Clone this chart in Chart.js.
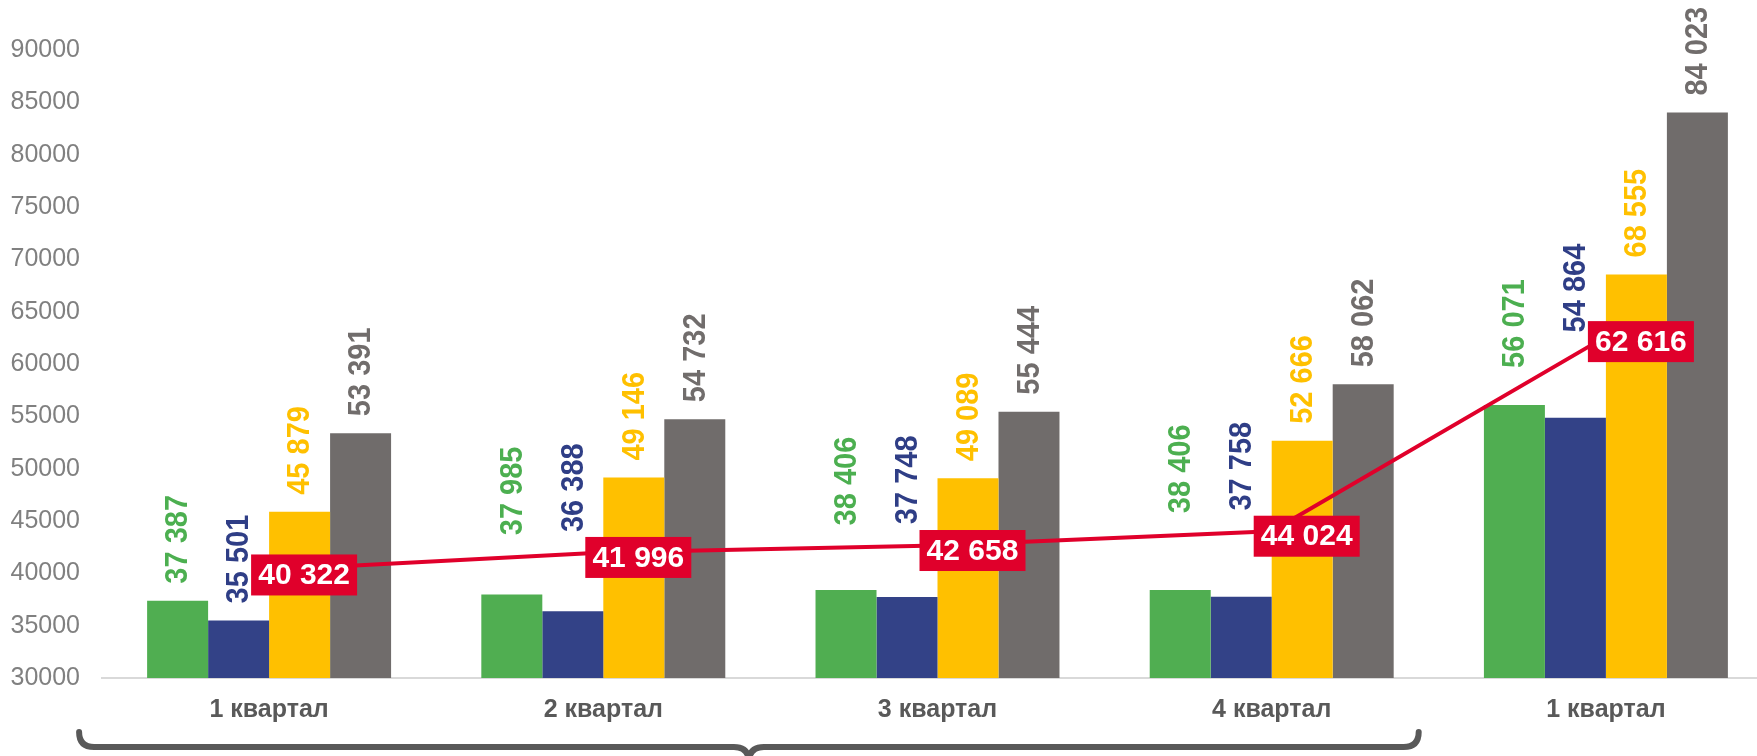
<!DOCTYPE html>
<html lang="ru">
<head>
    <meta charset="UTF-8">
    <title>Кварталы</title>
    <style>
        body {
            margin: 0;
            background-color: white;
            overflow: hidden;
        }
        #barChart {
            display: block;
        }
    </style>
    <script src="https://cdn.jsdelivr.net/npm/chart.js"></script>
</head>
<body>
    <canvas id="barChart" width="1776" height="756"></canvas>

    <script>
        // data
        const quarters = ['1 квартал', '2 квартал', '3 квартал', '4 квартал', '1 квартал'];
        const seriesGreen = [37387, 37985, 38406, 38406, 56071];
        const seriesBlue = [35501, 36388, 37748, 37758, 54864];
        const seriesYellow = [45879, 49146, 49089, 52666, 68555];
        const seriesGray = [53391, 54732, 55444, 58062, 84023];
        const lineValues = [40322, 41996, 42658, 44024, 62616];
        const yTicks = [30000, 90000, 5000]; // min, max, step

        const FONT = '"Liberation Sans", Arial, sans-serif';
        const RED = '#E0002B';

        function fmt(v) {
            return String(v).replace(/\B(?=(\d{3})+(?!\d))/g, ' ');
        }

        // value labels: rotated above the bars, red boxes on the line
        const labelsPlugin = {
            id: 'labels',
            afterDatasetsDraw(chart) {
                const ctx = chart.ctx;
                const lineMeta = chart.getDatasetMeta(4);
                const pts = lineMeta.data;

                function lineYAt(x) {
                    for (let i = 0; i < pts.length - 1; i++) {
                        const a = pts[i], b = pts[i + 1];
                        if (x >= a.x && x <= b.x) {
                            return a.y + (b.y - a.y) * (x - a.x) / (b.x - a.x);
                        }
                    }
                    return null;
                }

                ctx.save();
                ctx.font = 'bold 29px ' + FONT;
                chart.data.datasets.forEach((ds, di) => {
                    if (ds.type === 'line') return;
                    const meta = chart.getDatasetMeta(di);
                    meta.data.forEach((bar, i) => {
                        let end = bar.y - 17;
                        const ly = lineYAt(bar.x);
                        if (ly !== null && ly - 22 < end) end = ly - 22;
                        ctx.save();
                        ctx.translate(bar.x, end);
                        ctx.rotate(-Math.PI / 2);
                        ctx.scale(1, 1.08);
                        ctx.fillStyle = ds.labelColor;
                        ctx.textAlign = 'left';
                        ctx.textBaseline = 'middle';
                        ctx.fillText(fmt(ds.data[i]), 0, 1);
                        ctx.restore();
                    });
                });

                // boxes for the line
                ctx.font = 'bold 30px ' + FONT;
                pts.forEach((p, i) => {
                    const cx = p.x + 35, cy = p.y + 5;
                    ctx.fillStyle = RED;
                    ctx.fillRect(cx - 53, cy - 20.5, 106, 41);
                    ctx.fillStyle = '#FFFFFF';
                    ctx.textAlign = 'center';
                    ctx.textBaseline = 'middle';
                    ctx.fillText(fmt(lineValues[i]), cx, cy + 1);
                });
                ctx.restore();
            }
        };

        // brace under the first four quarters
        const bracePlugin = {
            id: 'brace',
            afterDraw(chart) {
                const ctx = chart.ctx;
                const xs = chart.scales.x;
                const left = xs.getPixelForValue(0) - 190;
                const right = xs.getPixelForValue(3) + 147;
                const mid = (left + right) / 2;
                const y = 747, r = 15;
                ctx.save();
                ctx.strokeStyle = '#595959';
                ctx.lineWidth = 6;
                ctx.lineCap = 'round';
                ctx.beginPath();
                ctx.moveTo(left, y - r);
                ctx.quadraticCurveTo(left, y, left + r, y);
                ctx.lineTo(mid - r, y);
                ctx.quadraticCurveTo(mid, y, mid, y + r);
                ctx.quadraticCurveTo(mid, y, mid + r, y);
                ctx.lineTo(right - r, y);
                ctx.quadraticCurveTo(right, y, right, y - r);
                ctx.stroke();
                ctx.restore();
            }
        };

        function barSet(label, data, color, labelColor) {
            return {
                type: 'bar',
                label: label,
                data: data,
                backgroundColor: color,
                labelColor: labelColor,
                borderWidth: 0,
                categoryPercentage: 0.73,
                barPercentage: 1.0,
                order: 1
            };
        }

        const ctx = document.getElementById('barChart').getContext('2d');
        new Chart(ctx, {
            data: {
                labels: quarters,
                datasets: [
                    barSet('Ряд 1', seriesGreen, '#50AE51', '#4CAF50'),
                    barSet('Ряд 2', seriesBlue, '#334287', '#2F3E86'),
                    barSet('Ряд 3', seriesYellow, '#FFC000', '#FFC000'),
                    barSet('Ряд 4', seriesGray, '#706C6B', '#716D6C'),
                    {
                        type: 'line',
                        label: 'Среднее',
                        data: lineValues,
                        borderColor: RED,
                        borderWidth: 4,
                        pointRadius: 0,
                        tension: 0,
                        fill: false,
                        order: 0
                    }
                ]
            },
            options: {
                responsive: false,
                devicePixelRatio: 1,
                animation: false,
                layout: {
                    padding: { top: 50, right: 3, left: 0, bottom: 0 }
                },
                scales: {
                    x: {
                        grid: { display: false, drawTicks: false },
                        border: { display: true, color: '#D9D9D9', width: 2 },
                        ticks: {
                            color: '#595959',
                            font: { family: FONT, size: 25, weight: 'bold' },
                            padding: 17,
                            maxRotation: 0
                        },
                        afterFit(scale) { scale.height = 78; }
                    },
                    y: {
                        min: yTicks[0],
                        max: yTicks[1],
                        grid: { display: false, drawTicks: false },
                        border: { display: false },
                        ticks: {
                            stepSize: yTicks[2],
                            color: '#808080',
                            font: { family: FONT, size: 25 },
                            padding: 22,
                            callback: v => String(v)
                        },
                        afterFit(scale) { scale.width = 102; }
                    }
                },
                plugins: {
                    legend: { display: false },
                    tooltip: { enabled: false }
                }
            },
            plugins: [labelsPlugin, bracePlugin]
        });
    </script>
</body>
</html>
